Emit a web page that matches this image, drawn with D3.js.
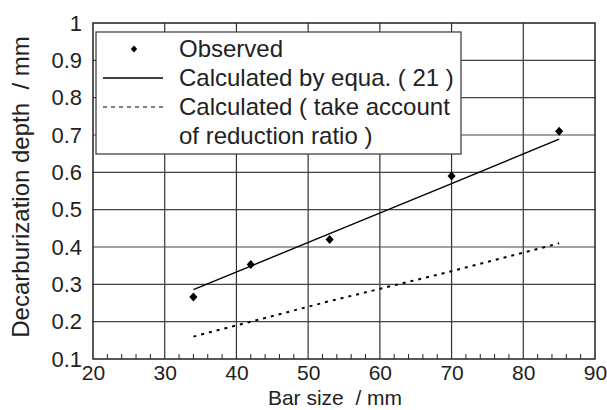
<!DOCTYPE html>
<html>
<head>
<meta charset="utf-8">
<script src="https://cdnjs.cloudflare.com/ajax/libs/d3/7.8.5/d3.min.js"></script>
<style>
  body { margin: 0; background: #fff; }
  svg text { font-family: "Liberation Sans", Arial, sans-serif; fill: #222; white-space: pre; }
</style>
</head>
<body>
<div id="chart"></div>
<script>
// observed decarburization depth
var obsSize = [34, 42, 53, 70, 85];
var obsDepth = [0.266, 0.353, 0.42, 0.59, 0.71];
// calculated by equation (21)
var calcSize = [34, 42, 53, 70, 85];
var calcDepth = [0.286, 0.349, 0.436, 0.570, 0.689];
// calculated taking reduction ratio into account
var redSize = [34, 42, 53, 70, 85];
var redDepth = [0.16, 0.20, 0.255, 0.335, 0.41];

var xTicks = [20, 30, 40, 50, 60, 70, 80, 90];
var yTicks = [0.1, 0.2, 0.3, 0.4, 0.5, 0.6, 0.7, 0.8, 0.9, 1];
var legendLabels = ["Observed", "Calculated by equa. ( 21 )", "Calculated ( take account", "of reduction ratio )"];

var W = 607, H = 410;
var margin = {top: 23, right: 12, bottom: 51, left: 93};
var width = W - margin.left - margin.right,
    height = H - margin.top - margin.bottom;

var svg = d3.select("#chart").append("svg")
    .attr("width", W)
    .attr("height", H);
var g = svg.append("g")
    .attr("transform", "translate(" + margin.left + "," + margin.top + ")");

var x = d3.scaleLinear().domain([20, 90]).range([0, width]);
var y = d3.scaleLinear().domain([0.1, 1]).range([height, 0]);

// grid
g.append("g").selectAll("line")
    .data(xTicks.slice(1, -1))
    .enter().append("line")
    .attr("x1", function (d) { return x(d); })
    .attr("x2", function (d) { return x(d); })
    .attr("y1", 0).attr("y2", height)
    .attr("stroke", "#333").attr("stroke-width", 1.2);
g.append("g").selectAll("line")
    .data(yTicks.slice(1, -1))
    .enter().append("line")
    .attr("y1", function (d) { return y(d); })
    .attr("y2", function (d) { return y(d); })
    .attr("x1", 0).attr("x2", width)
    .attr("stroke", "#444").attr("stroke-width", 1.2);

// minor ticks along bottom
var minor = d3.range(22, 90, 2).filter(function (d) { return d % 10 != 0; });
g.append("g").selectAll("line")
    .data(minor)
    .enter().append("line")
    .attr("x1", function (d) { return x(d); })
    .attr("x2", function (d) { return x(d); })
    .attr("y1", height).attr("y2", height - 5)
    .attr("stroke", "#222").attr("stroke-width", 1);

// frame
g.append("rect")
    .attr("width", width).attr("height", height)
    .attr("fill", "none").attr("stroke", "#222").attr("stroke-width", 1.5);

// tick labels
g.append("g")
    .attr("transform", "translate(0," + height + ")")
    .call(d3.axisBottom(x).tickValues(xTicks).tickSize(0).tickPadding(6))
    .call(function (s) { s.select(".domain").remove(); })
    .selectAll("text")
    .style("font-size", "21px")
    .attr("fill", "#222");
g.append("g")
    .call(d3.axisLeft(y).tickValues(yTicks).tickSize(0).tickPadding(11)
        .tickFormat(function (d) { return d3.format("")(+d.toFixed(1)); }))
    .call(function (s) { s.select(".domain").remove(); })
    .selectAll("text")
    .style("font-size", "22px")
    .attr("fill", "#222");

// axis titles
svg.append("text")
    .attr("x", 335).attr("y", 405)
    .attr("text-anchor", "middle")
    .style("font-size", "21px")
    .text("Bar size  / mm");
svg.append("text")
    .attr("transform", "translate(29,187) rotate(-90)")
    .attr("text-anchor", "middle")
    .style("font-size", "24px")
    .text("Decarburization depth  / mm");

// lines
var line = d3.line()
    .x(function (d) { return x(d[0]); })
    .y(function (d) { return y(d[1]); });
g.append("path")
    .datum(d3.zip(calcSize, calcDepth))
    .attr("d", line)
    .attr("fill", "none").attr("stroke", "#000").attr("stroke-width", 1.4);
g.append("path")
    .datum(d3.zip(redSize, redDepth))
    .attr("d", line)
    .attr("fill", "none").attr("stroke", "#000").attr("stroke-width", 2)
    .attr("stroke-dasharray", "3,5");

// observed diamonds
var diamond = d3.symbol().type(d3.symbolDiamond2).size(42);
g.append("g").selectAll("path")
    .data(d3.zip(obsSize, obsDepth))
    .enter().append("path")
    .attr("d", diamond)
    .attr("transform", function (d) { return "translate(" + x(d[0]) + "," + y(d[1]) + ") scale(1,1.1)"; })
    .attr("fill", "#000");

// legend
var leg = svg.append("g");
leg.append("rect")
    .attr("x", 96).attr("y", 32).attr("width", 365).attr("height", 122)
    .attr("fill", "#fff").attr("stroke", "#444").attr("stroke-width", 1.3);
leg.append("path")
    .attr("d", d3.symbol().type(d3.symbolDiamond2).size(26))
    .attr("transform", "translate(134,49) scale(1,1.1)")
    .attr("fill", "#000");
leg.append("line")
    .attr("x1", 103).attr("x2", 163).attr("y1", 78).attr("y2", 78)
    .attr("stroke", "#000").attr("stroke-width", 1.4);
leg.append("line")
    .attr("x1", 103).attr("x2", 163).attr("y1", 107).attr("y2", 107)
    .attr("stroke", "#000").attr("stroke-width", 1.2)
    .attr("stroke-dasharray", "4,4");
leg.selectAll("text.lab")
    .data(legendLabels)
    .enter().append("text")
    .attr("class", "lab")
    .attr("x", 179)
    .attr("y", function (d, i) { return 57 + i * 29; })
    .style("font-size", "24px")
    .text(function (d) { return d; });
</script>
</body>
</html>
